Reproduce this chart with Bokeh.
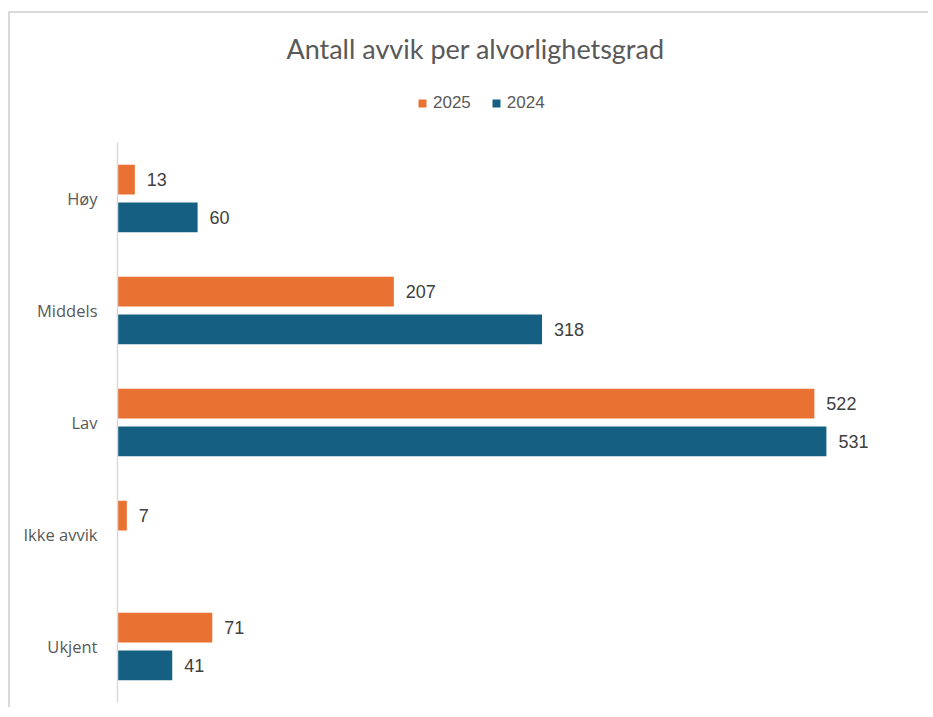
from bokeh.plotting import figure
from bokeh.models import (ColumnDataSource, Range1d, LabelSet, Label, Legend, LegendItem,
                          FixedTicker)
from bokeh.transform import dodge
from bokeh.core.properties import value
from bokeh.embed import file_html
from bokeh.resources import INLINE
import math

categories = ["Høy", "Middels", "Lav", "Ikke avvik", "Ukjent"]
v2025 = [13, 207, 522, 7, 71]
v2024 = [60, 318, 531, float("nan"), 41]
series_names = ["2025", "2024"]
title_text = "Antall avvik per alvorlighetsgrad"

ORANGE = "#E97132"
BLUE = "#156082"
GRAY = "#595959"

n = len(categories)
ypos = [n - 1 - i for i in range(n)]  # first category on top

src = ColumnDataSource(dict(cat=categories, y=ypos, v2025=v2025, v2024=v2024))

def label_src(vals):
    yy, v, t = [], [], []
    for y, x in zip(ypos, vals):
        if x is None or (isinstance(x, float) and math.isnan(x)):
            continue
        yy.append(y); v.append(x); t.append(str(int(x)))
    return ColumnDataSource(dict(y=yy, v=v, t=t))

# layout (pixels)
W, H = 920, 696
MB_LEFT, MB_BOTTOM = 107, 7
PX_PER_UNIT_X = 1.335
PX_PER_CAT = 112
frame_w = W - MB_LEFT
frame_h = H - MB_BOTTOM
y_start = -0.5
y_end = y_start + frame_h / PX_PER_CAT

p = figure(width=W, height=H, output_backend="svg", toolbar_location=None,
           x_range=Range1d(0, frame_w / PX_PER_UNIT_X), y_range=Range1d(y_start, y_end),
           min_border=0, min_border_left=MB_LEFT, min_border_right=0,
           min_border_top=0, min_border_bottom=MB_BOTTOM)
p.styles = {"margin-left": "8px", "margin-top": "11px",
            "border-top": "2px solid #d9d9d9", "border-left": "2px solid #d9d9d9"}
p.outline_line_color = None
p.xgrid.visible = False
p.ygrid.visible = False
p.xaxis.visible = False

off = 0.168
h = 0.265
r1 = p.hbar(y=dodge("y", off), right="v2025", left=0, height=h,
            source=src, color=ORANGE, line_color=None)
r2 = p.hbar(y=dodge("y", -off), right="v2024", left=0, height=h,
            source=src, color=BLUE, line_color=None)

for vals, o in ((v2025, off), (v2024, -off)):
    ls = LabelSet(x="v", y=dodge("y", o), text="t", source=label_src(vals),
                  x_offset=12, text_baseline="middle", text_font=value("Liberation Sans"),
                  text_font_size="18px", text_color="#404040")
    p.add_layout(ls)

yax = p.yaxis[0]
yax.ticker = FixedTicker(ticks=ypos)
yax.major_label_overrides = {y: c for y, c in zip(ypos, categories)}
yax.bounds = (y_start, n - 0.5)
yax.axis_line_color = "#d9d9d9"
yax.axis_line_width = 1.5
yax.major_tick_line_color = None
yax.minor_tick_line_color = None
yax.major_label_text_font = "Open Sans"
yax.major_label_text_font_size = "16.5px"
yax.major_label_text_color = GRAY
yax.major_label_standoff = 14

title = Label(x=(475 - 117) / PX_PER_UNIT_X, y=y_start + (702 - 48) / PX_PER_CAT,
              text=title_text, text_align="center", text_baseline="middle",
              text_font="Lato", text_font_size="27px", text_color=GRAY)
p.add_layout(title)

legend = Legend(items=[LegendItem(label=series_names[0], renderers=[r1]),
                       LegendItem(label=series_names[1], renderers=[r2])],
                orientation="horizontal", location=(300, 589),
                padding=0, margin=0, spacing=20, label_standoff=6,
                glyph_width=10, glyph_height=10,
                label_text_font="Liberation Sans", label_text_font_size="17px",
                label_text_color=GRAY, border_line_color=None, background_fill_alpha=0)
p.add_layout(legend)

open("out.html", "w").write(file_html(p, INLINE))
